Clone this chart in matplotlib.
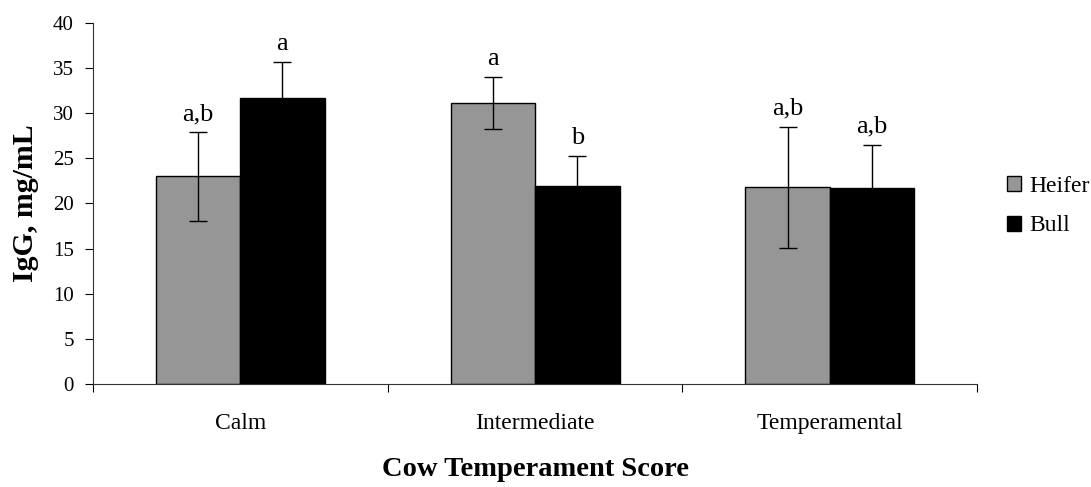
import matplotlib
matplotlib.use("Agg")
import matplotlib.pyplot as plt
import numpy as np

plt.rcParams['font.family'] = ['Liberation Serif', 'DejaVu Serif']

# Serum IgG by cow temperament score and calf sex
categories = ["Calm", "Intermediate", "Temperamental"]
series_names = ["Heifer", "Bull"]
heifer_means = [23.0, 31.1, 21.8]
heifer_errors = [4.9, 2.9, 6.7]
bull_means = [31.7, 21.9, 21.7]
bull_errors = [3.9, 3.3, 4.8]
heifer_letters = ["a,b", "a", "a,b"]
bull_letters = ["a", "b", "a,b"]
y_ticks = [0, 5, 10, 15, 20, 25, 30, 35, 40]

fig = plt.figure(figsize=(10.91, 4.87), dpi=100)
ax = fig.add_axes([0.085, 0.2109, 0.8108, 0.7425])

x = np.arange(len(categories))
width = 0.2866

err_kw = dict(ecolor="black", elinewidth=1.0, capsize=6.5, capthick=1.0)
b1 = ax.bar(x - width / 2, heifer_means, width, color="#969696", edgecolor="black",
            linewidth=1.0, yerr=heifer_errors, error_kw=err_kw, label=series_names[0], zorder=2)
b2 = ax.bar(x + width / 2, bull_means, width, color="black", edgecolor="black",
            linewidth=1.0, yerr=bull_errors, error_kw=err_kw, label=series_names[1], zorder=2)

# significance letters above the error bars
for xi, m, e, t in zip(x - width / 2, heifer_means, heifer_errors, heifer_letters):
    ax.annotate(t, (xi, m + e), xytext=(0, 12), textcoords="offset pixels",
                ha="center", va="baseline", fontsize=19)
for xi, m, e, t in zip(x + width / 2, bull_means, bull_errors, bull_letters):
    ax.annotate(t, (xi, m + e), xytext=(0, 12), textcoords="offset pixels",
                ha="center", va="baseline", fontsize=19)

ax.set_xlim(-0.5, len(categories) - 0.5)
ax.set_ylim(0, 40)
ax.set_yticks(y_ticks)
ax.tick_params(axis="y", labelsize=15, length=5.5, width=0.8, pad=8, direction="out")

# category boundaries as major ticks, names on minor ticks
ax.set_xticks(np.arange(-0.5, len(categories), 1.0))
ax.set_xticklabels([])
ax.set_xticks(x, minor=True)
ax.set_xticklabels(categories, minor=True)
ax.tick_params(axis="x", which="major", length=6, width=0.8, direction="out")
ax.tick_params(axis="x", which="minor", length=0, labelsize=17, pad=21)

for side in ["top", "right"]:
    ax.spines[side].set_visible(False)
for side in ["left", "bottom"]:
    ax.spines[side].set_linewidth(0.8)
    ax.spines[side].set_color("#333333")

ax.set_ylabel("IgG, mg/mL", fontsize=21.5, fontweight="bold", va="center")
ax.yaxis.set_label_coords(-0.0765, 0.5)
ax.set_xlabel("Cow Temperament Score", fontsize=20.5, fontweight="bold", va="center")
ax.xaxis.set_label_coords(0.5, -0.237)

leg = fig.legend(handles=[b1, b2], labels=series_names, loc="center left",
                 bbox_to_anchor=(0.923, 0.577), frameon=False, fontsize=17,
                 handlelength=0.6, handleheight=0.6, handletextpad=0.35,
                 labelspacing=0.8, borderpad=0.0, borderaxespad=0.0)

fig.savefig("out.png", dpi=100)
